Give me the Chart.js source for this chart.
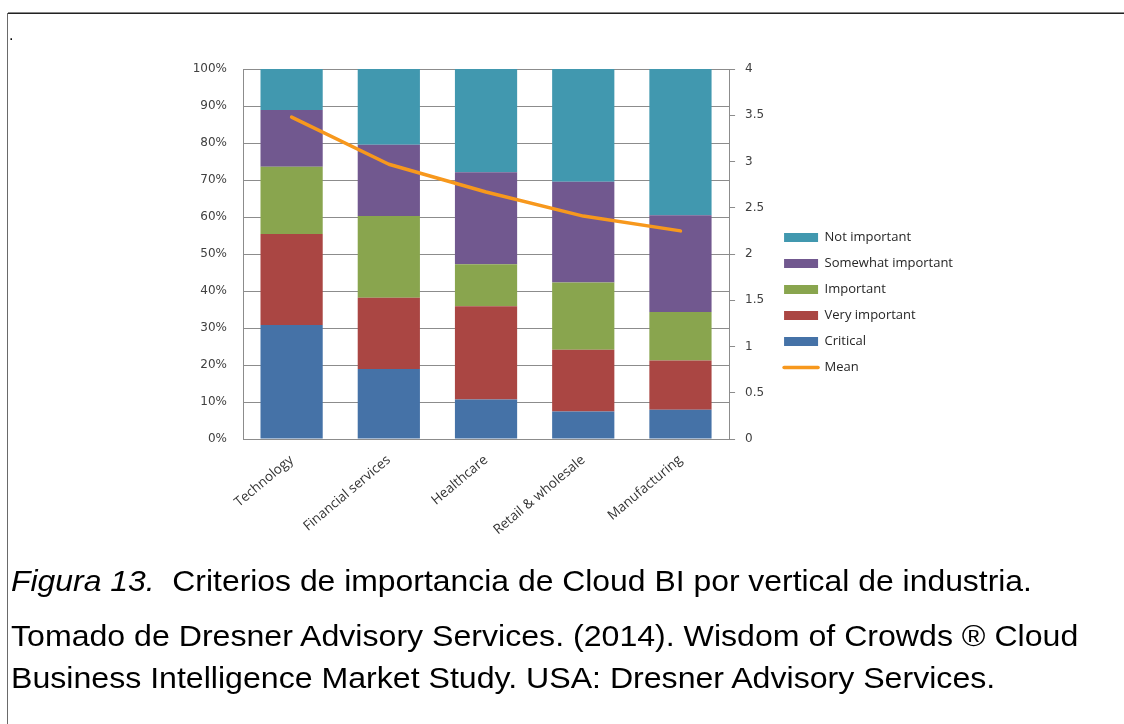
<!DOCTYPE html>
<html>
<head>
<meta charset="utf-8">
<script src="https://cdn.jsdelivr.net/npm/chart.js@4/dist/chart.umd.min.js"></script>
<style>
  html, body { margin: 0; padding: 0; background: #ffffff; }
  body { width: 1124px; height: 724px; position: relative; overflow: hidden; }
  #frameTop { position: absolute; left: 8px; top: 12px; width: 1116px; height: 0; border-top: 1px solid #888; border-bottom: 1px solid #222; }
  #frameLeft { position: absolute; left: 7px; top: 13px; width: 1px; height: 711px; background: #6a6a6a; }
  #dot { position: absolute; left: 9px; top: 27px; font: 16px "Liberation Sans", Arial, sans-serif; line-height: 16px; color: #000; }
  #chartWrap { position: absolute; left: -300px; top: 0; width: 1424px; height: 560px; }
  .cap { position: absolute; left: 11px; font-family: "Liberation Sans", Arial, sans-serif; font-size: 30px; line-height: 34px; color: #000; white-space: nowrap; transform: scaleX(1.07); transform-origin: 0 0; }
</style>
</head>
<body>
<div id="chartWrap"><canvas id="c" width="1424" height="560"></canvas></div>
<div id="frameTop"></div>
<div id="frameLeft"></div>
<div id="dot">.</div>
<div class="cap" style="top:564px; transform: scaleX(1.063);"><i>Figura 13.</i>&nbsp; Criterios de importancia de Cloud BI por vertical de industria.</div>
<div class="cap" style="top:619px">Tomado de Dresner Advisory Services. (2014). Wisdom of Crowds ® Cloud</div>
<div class="cap" style="top:661px">Business Intelligence Market Study. USA: Dresner Advisory Services.</div>
<script>
// ---- data ----
const categories = ["Technology", "Financial services", "Healthcare", "Retail & wholesale", "Manufacturing"];
const critical        = [30.8, 18.9, 10.7, 7.4, 7.9];
const veryImportant   = [24.6, 19.3, 25.2, 16.7, 13.3];
const important       = [18.2, 22.1, 11.3, 18.2, 13.1];
const somewhat        = [15.3, 19.2, 24.9, 27.2, 26.2];
const notImportant    = [11.1, 20.5, 27.9, 30.5, 39.5];
const meanScore       = [3.48, 2.97, 2.67, 2.41, 2.25];
const percentTicks    = [0, 10, 20, 30, 40, 50, 60, 70, 80, 90, 100];
const meanTicks       = [0, 0.5, 1, 1.5, 2, 2.5, 3, 3.5, 4];

const seriesNames = ["Critical", "Very important", "Important", "Somewhat important", "Not important"];
const seriesData  = [critical, veryImportant, important, somewhat, notImportant];
const seriesColors = ["#4572A7", "#AA4643", "#89A54E", "#71588F", "#4198AF"];

const tickFont = { family: "'DejaVu Sans', Verdana, sans-serif", size: 12 };
const labelFont = { family: "'Open Sans', sans-serif", size: 13 };
const xFont = { family: "'Open Sans', sans-serif", size: 13.5 };
const gridColor = "#8c8c8c";

const datasets = seriesNames.map((name, i) => ({
  type: 'bar',
  label: name,
  data: seriesData[i],
  backgroundColor: seriesColors[i],
  borderWidth: 0,
  barPercentage: 0.64,
  categoryPercentage: 1.0,
  yAxisID: 'y',
  order: 1,
  pointStyle: 'rect'
}));
datasets.push({
  type: 'line',
  label: 'Mean',
  data: meanScore,
  borderColor: '#F7981D',
  backgroundColor: '#F7981D',
  borderWidth: 3.5,
  borderCapStyle: 'round',
  borderJoinStyle: 'round',
  pointRadius: 0,
  pointHoverRadius: 0,
  tension: 0,
  fill: false,
  yAxisID: 'y1',
  order: 0,
  pointStyle: 'line'
});

new Chart(document.getElementById('c'), {
  data: { labels: categories, datasets: datasets },
  options: {
    responsive: false,
    animation: false,
    devicePixelRatio: 1,
    layout: { padding: { top: 69, left: 0, right: 161, bottom: 24 } },
    plugins: {
      tooltip: { enabled: false },
      legend: {
        position: 'right',
        align: 'center',
        labels: {
          usePointStyle: true,
          pointStyleWidth: 34,
          boxHeight: 9,
          padding: 13,
          color: '#262626',
          font: labelFont,
          generateLabels(chart) {
            const items = Chart.defaults.plugins.legend.labels.generateLabels(chart);
            items.forEach(it => {
              const ds = chart.data.datasets[it.datasetIndex];
              if (ds.type === 'line') {
                it.pointStyle = 'line';
                it.lineWidth = 3.5;
                it.strokeStyle = ds.borderColor;
                it.fillStyle = ds.borderColor;
                it.lineCap = 'round';
              } else {
                it.pointStyle = 'rect';
                it.lineWidth = 0;
              }
            });
            return items;
          },
          sort(a, b) {
            const key = it => (it.pointStyle === 'line' ? 100 : -it.datasetIndex);
            return key(a) - key(b);
          }
        }
      }
    },
    scales: {
      x: {
        stacked: true,
        grid: { display: false },
        border: { display: false },
        ticks: {
          autoSkip: false,
          maxRotation: 40,
          minRotation: 40,
          padding: 5,
          color: '#333333',
          font: xFont
        },
        afterFit(scale) { scale.height = 97; }
      },
      y: {
        stacked: true,
        position: 'left',
        min: 0,
        max: 100,
        grid: { color: gridColor, lineWidth: 1, drawTicks: false },
        border: { display: true, color: gridColor, width: 1 },
        afterBuildTicks(scale) { scale.ticks = percentTicks.map(v => ({ value: v })); },
        ticks: {
          padding: 16,
          color: '#404040',
          font: tickFont,
          callback: v => v + '%'
        },
        afterFit(scale) { scale.width = 543; }
      },
      y1: {
        position: 'right',
        min: 0,
        max: 4,
        grid: { drawOnChartArea: false, color: gridColor, tickLength: 6, drawTicks: true },
        border: { display: true, color: gridColor, width: 1 },
        afterBuildTicks(scale) { scale.ticks = meanTicks.map(v => ({ value: v })); },
        ticks: {
          padding: 10,
          color: '#404040',
          font: tickFont,
          callback: v => String(v)
        },
        afterFit(scale) { scale.width = 42; }
      }
    }
  }
});
</script>
</body>
</html>
